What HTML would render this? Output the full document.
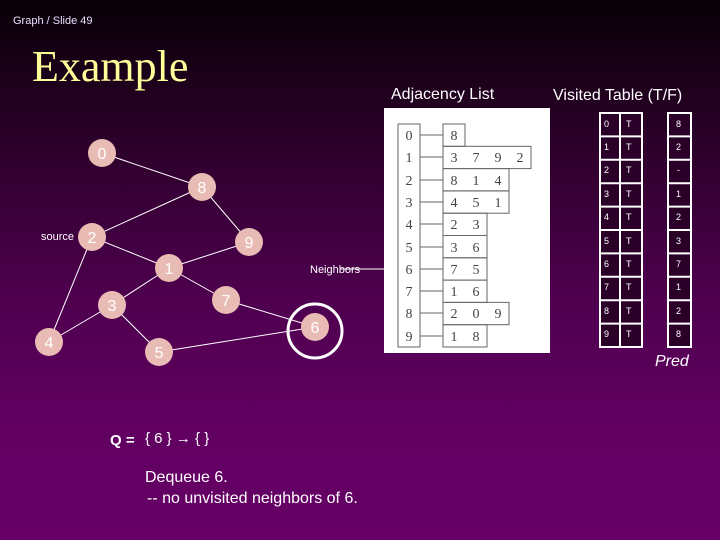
<!DOCTYPE html>
<html><head><style>
body{margin:0;width:720px;height:540px;overflow:hidden;background:linear-gradient(#080006 0%,#2a0028 25%,#4e004e 55%,#620062 80%,#660066 100%);font-family:"Liberation Sans",sans-serif;}
</style></head><body>
<svg width="720" height="540" xmlns="http://www.w3.org/2000/svg" style="position:absolute;left:0;top:0">
<text x="13" y="24" fill="#e8e0ff" font-size="11">Graph / Slide 49</text>
<text x="32" y="81" fill="#ffff99" font-size="44" font-family="Liberation Serif">Example</text>
<text x="391" y="99" fill="#fff" font-size="16">Adjacency List</text>
<text x="553" y="100" fill="#fff" font-size="16">Visited Table (T/F)</text>
<!-- edges -->
<g stroke="#fff" stroke-width="1">
<line x1="102" y1="153" x2="202" y2="187"/><line x1="202" y1="187" x2="92" y2="237"/>
<line x1="202" y1="187" x2="249" y2="242"/><line x1="92" y1="237" x2="169" y2="268"/>
<line x1="249" y1="242" x2="169" y2="268"/><line x1="169" y1="268" x2="226" y2="300"/>
<line x1="169" y1="268" x2="112" y2="305"/><line x1="92" y1="237" x2="49" y2="342"/>
<line x1="112" y1="305" x2="49" y2="342"/><line x1="112" y1="305" x2="159" y2="352"/>
<line x1="226" y1="300" x2="315" y2="327"/><line x1="159" y1="352" x2="315" y2="327"/>
<line x1="340" y1="269" x2="398" y2="269"/>
</g>
<g fill="#e8bcb4">
<circle cx="102" cy="153" r="14"/><circle cx="202" cy="187" r="14"/><circle cx="92" cy="237" r="14"/>
<circle cx="249" cy="242" r="14"/><circle cx="169" cy="268" r="14"/><circle cx="226" cy="300" r="14"/>
<circle cx="112" cy="305" r="14"/><circle cx="315" cy="327" r="14"/><circle cx="49" cy="342" r="14"/>
<circle cx="159" cy="352" r="14"/>
</g>
<circle cx="315" cy="331" r="27" fill="none" stroke="#fff" stroke-width="3"/>
<g fill="#fff" font-size="16" text-anchor="middle">
<text x="102" y="159">0</text><text x="202" y="193">8</text><text x="92" y="243">2</text>
<text x="249" y="248">9</text><text x="169" y="274">1</text><text x="226" y="306">7</text>
<text x="112" y="311">3</text><text x="315" y="333">6</text><text x="49" y="348">4</text>
<text x="159" y="358">5</text>
</g>
<text x="41" y="240" fill="#fff" font-size="11">source</text>
<text x="310" y="273" fill="#fff" font-size="11">Neighbors</text>
<!-- adjacency -->
<rect x="384" y="108" width="166" height="245" fill="#fff"/>
<g fill="none" stroke="#666" stroke-width="1">
<rect x="398" y="124" width="22" height="223"/>
<rect x="443" y="124" width="22" height="22.3"/>
<rect x="443" y="146.3" width="88" height="22.3"/>
<rect x="443" y="168.6" width="66" height="22.3"/>
<rect x="443" y="190.9" width="66" height="22.3"/>
<rect x="443" y="213.2" width="44" height="22.3"/>
<rect x="443" y="235.5" width="44" height="22.3"/>
<rect x="443" y="257.8" width="44" height="22.3"/>
<rect x="443" y="280.1" width="44" height="22.3"/>
<rect x="443" y="302.4" width="66" height="22.3"/>
<rect x="443" y="324.7" width="44" height="22.3"/>
<line x1="420" y1="135" x2="443" y2="135"/><line x1="420" y1="157" x2="443" y2="157"/>
<line x1="420" y1="180" x2="443" y2="180"/><line x1="420" y1="202" x2="443" y2="202"/>
<line x1="420" y1="224" x2="443" y2="224"/><line x1="420" y1="247" x2="443" y2="247"/>
<line x1="420" y1="269" x2="443" y2="269"/><line x1="420" y1="291" x2="443" y2="291"/>
<line x1="420" y1="313" x2="443" y2="313"/><line x1="420" y1="336" x2="443" y2="336"/>
</g>
<g fill="#444" font-size="14" font-family="Liberation Serif" text-anchor="middle">
<text x="409" y="140">0</text><text x="409" y="162">1</text><text x="409" y="185">2</text><text x="409" y="207">3</text><text x="409" y="229">4</text><text x="409" y="252">5</text><text x="409" y="274">6</text><text x="409" y="296">7</text><text x="409" y="318">8</text><text x="409" y="341">9</text>
<text x="454" y="140">8</text>
<text x="454" y="162">3</text><text x="476" y="162">7</text><text x="498" y="162">9</text><text x="520" y="162">2</text>
<text x="454" y="185">8</text><text x="476" y="185">1</text><text x="498" y="185">4</text>
<text x="454" y="207">4</text><text x="476" y="207">5</text><text x="498" y="207">1</text>
<text x="454" y="229">2</text><text x="476" y="229">3</text>
<text x="454" y="252">3</text><text x="476" y="252">6</text>
<text x="454" y="274">7</text><text x="476" y="274">5</text>
<text x="454" y="296">1</text><text x="476" y="296">6</text>
<text x="454" y="318">2</text><text x="476" y="318">0</text><text x="498" y="318">9</text>
<text x="454" y="341">1</text><text x="476" y="341">8</text>
</g>
<!-- visited -->
<g fill="#2a0028" stroke="#fff" stroke-width="2">
<rect x="600" y="113" width="42" height="234"/><rect x="668" y="113" width="23" height="234"/>
</g>
<g stroke="#fff" stroke-width="2">
<line x1="620" y1="113" x2="620" y2="347"/>
<line x1="600" y1="136.4" x2="642" y2="136.4"/><line x1="668" y1="136.4" x2="691" y2="136.4"/>
<line x1="600" y1="159.8" x2="642" y2="159.8"/><line x1="668" y1="159.8" x2="691" y2="159.8"/>
<line x1="600" y1="183.2" x2="642" y2="183.2"/><line x1="668" y1="183.2" x2="691" y2="183.2"/>
<line x1="600" y1="206.6" x2="642" y2="206.6"/><line x1="668" y1="206.6" x2="691" y2="206.6"/>
<line x1="600" y1="230" x2="642" y2="230"/><line x1="668" y1="230" x2="691" y2="230"/>
<line x1="600" y1="253.4" x2="642" y2="253.4"/><line x1="668" y1="253.4" x2="691" y2="253.4"/>
<line x1="600" y1="276.8" x2="642" y2="276.8"/><line x1="668" y1="276.8" x2="691" y2="276.8"/>
<line x1="600" y1="300.2" x2="642" y2="300.2"/><line x1="668" y1="300.2" x2="691" y2="300.2"/>
<line x1="600" y1="323.6" x2="642" y2="323.6"/><line x1="668" y1="323.6" x2="691" y2="323.6"/>
</g>
<g fill="#fff" font-size="9">
<text x="604" y="127">0</text><text x="626" y="127">T</text><text x="676" y="127">8</text>
<text x="604" y="150">1</text><text x="626" y="150">T</text><text x="676" y="150">2</text>
<text x="604" y="173">2</text><text x="626" y="173">T</text><text x="677" y="173">-</text>
<text x="604" y="197">3</text><text x="626" y="197">T</text><text x="676" y="197">1</text>
<text x="604" y="220">4</text><text x="626" y="220">T</text><text x="676" y="220">2</text>
<text x="604" y="244">5</text><text x="626" y="244">T</text><text x="676" y="244">3</text>
<text x="604" y="267">6</text><text x="626" y="267">T</text><text x="676" y="267">7</text>
<text x="604" y="290">7</text><text x="626" y="290">T</text><text x="676" y="290">1</text>
<text x="604" y="314">8</text><text x="626" y="314">T</text><text x="676" y="314">2</text>
<text x="604" y="337">9</text><text x="626" y="337">T</text><text x="676" y="337">8</text>
</g>
<text x="655" y="366" fill="#fff" font-size="16" font-style="italic">Pred</text>
<text x="110" y="445" fill="#fff" font-size="15" font-weight="bold">Q =</text>
<text x="145" y="443" fill="#fff" font-size="15">{ 6 } → {  }</text>
<text x="145" y="482" fill="#fff" font-size="16">Dequeue 6.</text>
<text x="147" y="503" fill="#fff" font-size="16">-- no unvisited neighbors of 6.</text>
</svg>
</body></html>
